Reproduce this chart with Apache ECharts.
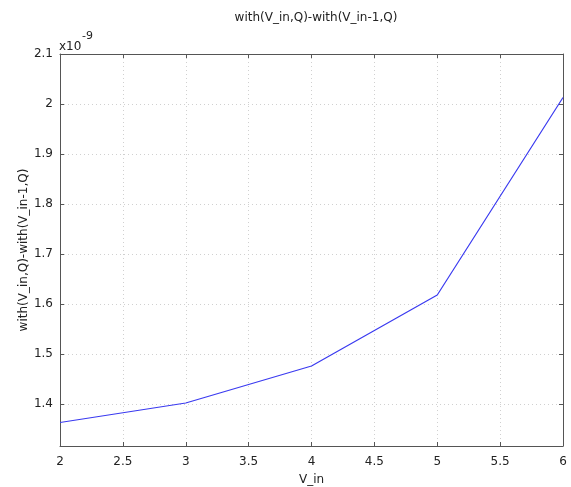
<!DOCTYPE html>
<html>
<head>
<meta charset="utf-8">
<script src="https://cdn.jsdelivr.net/npm/echarts@6/dist/echarts.min.js"></script>
<style>html,body{margin:0;padding:0;background:#fff;}#c{width:571px;height:487px;}</style>
</head>
<body>
<div id="c"></div>
<script>
const xValues = [2, 3, 4, 5, 6];
const yValues = [1.363e-9, 1.402e-9, 1.476e-9, 1.618e-9, 2.013e-9];
const yTicks = [1.4e-9, 1.5e-9, 1.6e-9, 1.7e-9, 1.8e-9, 1.9e-9, 2.0e-9, 2.1e-9];
const yMin = 1.316e-9, yMax = 2.1e-9;
const SCALE = 1e-9;

const font = 'DejaVu Sans';
const axisColor = '#555';
const gridLine = {show: true, lineStyle: {color: '#d0d0d0', type: [1, 3], width: 1}};
const chart = echarts.init(document.getElementById('c'));
const fmtY = v => String(+(v / SCALE).toFixed(2));
chart.setOption({
  animation: false,
  title: {text: 'with(V_in,Q)-with(V_in-1,Q)', left: 311, top: 7, textAlign: 'center',
    textStyle: {fontFamily: font, fontSize: 12, fontWeight: 'normal', color: '#222'}},
  grid: {left: 60, right: 8, top: 54, bottom: 41, containLabel: false, outerBoundsMode: 'none'},
  graphic: [
    {type: 'text', left: 59, top: 41, style: {text: 'x10', font: '12px "DejaVu Sans"', fill: '#222'}},
    {type: 'text', left: 82, top: 31, style: {text: '-9', font: '11px "DejaVu Sans"', fill: '#222'}}
  ],
  xAxis: [{
    type: 'value', min: 2, max: 6, interval: 0.5,
    name: 'V_in', nameLocation: 'middle', nameGap: 28, nameMoveOverlap: false,
    nameTextStyle: {fontFamily: font, fontSize: 12, color: '#222'},
    axisLine: {show: true, onZero: false, lineStyle: {color: axisColor, width: 1}},
    axisTick: {show: true, inside: true, length: 4, lineStyle: {color: axisColor}},
    axisLabel: {fontFamily: font, fontSize: 12, color: '#222', margin: 10},
    splitLine: gridLine
  }, {
    type: 'value', min: 2, max: 6, interval: 0.5, position: 'top',
    axisLine: {show: true, onZero: false, lineStyle: {color: axisColor, width: 1}},
    axisTick: {show: true, inside: true, length: 4, lineStyle: {color: axisColor}},
    axisLabel: {show: false}, splitLine: {show: false}
  }],
  yAxis: [{
    type: 'value', min: yMin, max: yMax,
    name: 'with(V_in,Q)-with(V_in-1,Q)', nameLocation: 'middle', nameGap: 30, nameMoveOverlap: false,
    nameTextStyle: {fontFamily: font, fontSize: 12, color: '#222'},
    axisLine: {show: true, onZero: false, lineStyle: {color: axisColor, width: 1}},
    axisTick: {show: true, inside: true, length: 4, customValues: yTicks, lineStyle: {color: axisColor}},
    axisLabel: {fontFamily: font, fontSize: 12, color: '#222', margin: 7, customValues: yTicks, formatter: fmtY},
    splitLine: gridLine
  }, {
    type: 'value', min: yMin, max: yMax, position: 'right',
    axisLine: {show: true, onZero: false, lineStyle: {color: axisColor, width: 1}},
    axisTick: {show: true, inside: true, length: 4, customValues: yTicks, lineStyle: {color: axisColor}},
    axisLabel: {show: false, customValues: yTicks}, splitLine: {show: false}
  }],
  series: [{
    type: 'line', xAxisIndex: 0, yAxisIndex: 0,
    data: xValues.map((x, i) => [x, yValues[i]]),
    showSymbol: false, symbol: 'none',
    lineStyle: {color: '#3a3af0', width: 1.2}
  }]
});
</script>
</body>
</html>
